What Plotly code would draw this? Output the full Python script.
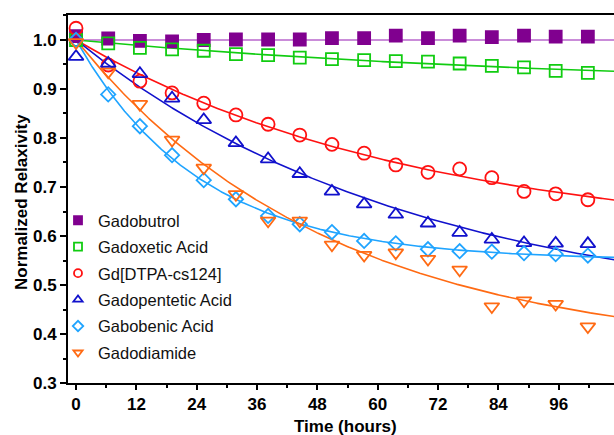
import numpy as np
import plotly.graph_objects as go

# time points (hours)
times = [0, 6.4, 12.7, 19.1, 25.4, 31.8, 38.2, 44.5, 50.9, 57.3, 63.6, 70.0, 76.3, 82.7, 89.1, 95.4, 101.8]

names = ["Gadobutrol", "Gadoxetic Acid", "Gd[DTPA-cs124]", "Gadopentetic Acid", "Gabobenic Acid", "Gadodiamide"]

gadobutrol = [1.008, 1.003, 0.998, 0.997, 1.000, 1.001, 1.001, 1.001, 1.004, 1.004, 1.009, 1.004, 1.009, 1.006, 1.009, 1.007, 1.007]
gadoxetic = [1.000, 0.993, 0.984, 0.981, 0.978, 0.971, 0.969, 0.964, 0.961, 0.959, 0.957, 0.956, 0.952, 0.947, 0.944, 0.937, 0.933]
gd_dtpa = [1.024, 0.949, 0.916, 0.892, 0.871, 0.847, 0.828, 0.806, 0.787, 0.769, 0.745, 0.730, 0.737, 0.719, 0.691, 0.686, 0.674]
gadopentetic = [0.966, 0.952, 0.931, 0.881, 0.837, 0.790, 0.757, 0.727, 0.691, 0.665, 0.644, 0.626, 0.607, 0.593, 0.586, 0.585, 0.584]
gabobenic = [1.000, 0.889, 0.824, 0.765, 0.714, 0.675, 0.641, 0.624, 0.608, 0.590, 0.585, 0.573, 0.569, 0.568, 0.565, 0.563, 0.560]
gadodiamide = [0.995, 0.935, 0.869, 0.796, 0.739, 0.685, 0.631, 0.631, 0.582, 0.561, 0.566, 0.553, 0.531, 0.456, 0.468, 0.461, 0.415]

series = [gadobutrol, gadoxetic, gd_dtpa, gadopentetic, gabobenic, gadodiamide]
marker_colors = ["#80008f", "#11cc11", "#ff1111", "#1111cc", "#1fa4ff", "#ff6a13"]
line_colors = ["#b866cc", "#11cc11", "#ff1111", "#1111cc", "#1fa4ff", "#ff6a13"]
symbols = ["square", "square-open", "circle-open", "triangle-up-open", "diamond-open", "triangle-down-open"]
sizes = [12, 12, 13, 13, 11, 13]


def fit_decay(t, y):
    """One-phase decay from 1.0 to a plateau (plateau constrained to <= 1)."""
    t = np.asarray(t, float)
    y = np.asarray(y, float)
    best = None
    for k in np.logspace(-4, 0, 4000):
        e = np.exp(-k * t)
        d = 1 - e
        p = min(np.sum((y - e) * d) / np.sum(d * d), 1.0)
        r = np.sum((p + (1 - p) * e - y) ** 2)
        if best is None or r < best[0]:
            best = (r, k, p)
    return best[1], best[2]


fig = go.Figure()
tt = np.linspace(0, 110, 400)
for vals, col in zip(series, line_colors):
    k, p = fit_decay(times, vals)
    fig.add_trace(go.Scatter(x=tt, y=p + (1 - p) * np.exp(-k * tt), mode="lines",
                             line=dict(color=col, width=1.6), showlegend=False, hoverinfo="skip"))

for nm, vals, col, sym, sz in zip(names, series, marker_colors, symbols, sizes):
    fig.add_trace(go.Scatter(x=times, y=vals, mode="markers", name=nm, showlegend=False,
                             marker=dict(symbol=sym, size=sz, color=col, line=dict(color=col, width=1.8))))

# legend entries (smaller symbols)
for i, (nm, col, sym) in enumerate(zip(names, marker_colors, symbols)):
    fig.add_trace(go.Scatter(x=[None], y=[None], mode="markers", name=nm, legendgroup="g%d" % i,
                             marker=dict(symbol=sym, size=8, color=col, line=dict(color=col, width=1.8))))

FAM = "Liberation Sans, Arial, sans-serif"
axfont = dict(family=FAM, size=17, color="black", weight="bold")

W, H = 614, 435
L, R, T, B = 68, 0, 15, 52
pw, ph = W - L - R, H - T - B


def px_x(x):
    return (x - L) / pw


def px_y(y):
    return (H - B - y) / ph


fig.update_layout(
    width=W, height=H,
    margin=dict(l=L, r=R, t=T, b=B, autoexpand=False),
    plot_bgcolor="white", paper_bgcolor="white",
    font=dict(family=FAM, color="black"),
    legend=dict(x=px_x(58), y=px_y(203), xanchor="left", yanchor="top", bgcolor="rgba(0,0,0,0)",
                font=dict(size=16.5, family=FAM, color="#111"), traceorder="grouped",
                tracegroupgap=2, itemwidth=30),
    xaxis=dict(range=[-1.6, 107.0], tickvals=[0, 12, 24, 36, 48, 60, 72, 84, 96],
               ticks="outside", ticklen=5, tickwidth=2, tickcolor="black",
               showline=True, linecolor="black", linewidth=2, mirror=True,
               showgrid=False, zeroline=False, tickfont=axfont, automargin=False,
               minor=dict(tickvals=[6, 18, 30, 42, 54, 66, 78, 90, 102], ticks="outside", ticklen=3, tickwidth=1.5, tickcolor="black")),
    yaxis=dict(range=[0.3, 1.051], tickvals=[0.3, 0.4, 0.5, 0.6, 0.7, 0.8, 0.9, 1.0],
               ticktext=["0.3", "0.4", "0.5", "0.6", "0.7", "0.8", "0.9", "1.0"],
               ticks="outside", ticklen=6, tickwidth=2, tickcolor="black",
               showline=True, linecolor="black", linewidth=2,
               showgrid=False, zeroline=False, tickfont=axfont, automargin=False,
               minor=dict(tickvals=[0.35, 0.45, 0.55, 0.65, 0.75, 0.85, 0.95, 1.05], ticks="outside", ticklen=3, tickwidth=1.5, tickcolor="black")),
    annotations=[
        dict(text="Time (hours)", x=px_x(345), y=px_y(426), xref="paper", yref="paper",
             xanchor="center", yanchor="middle", showarrow=False,
             font=dict(size=17, weight="bold", family=FAM)),
        dict(text="Normalized Relaxivity", x=px_x(21), y=px_y(202), xref="paper", yref="paper",
             xanchor="center", yanchor="middle", showarrow=False, textangle=-90,
             font=dict(size=17, weight="bold", family=FAM)),
    ],
)

fig.write_html("out.html", config={"displayModeBar": False},
               post_script="document.body.style.margin='0';document.body.style.padding='0';")
